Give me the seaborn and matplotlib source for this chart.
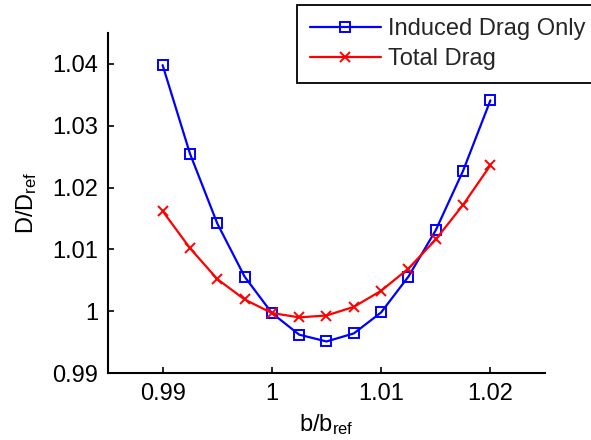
import matplotlib
matplotlib.use("Agg")
import matplotlib.pyplot as plt
import seaborn as sns
import pandas as pd

span_ratio = [0.99, 0.9925, 0.995, 0.9975, 1.0, 1.0025, 1.005, 1.0075, 1.01, 1.0125, 1.015, 1.0175, 1.02]
induced_drag = [1.0398, 1.0255, 1.0142, 1.0056, 0.9997, 0.9962, 0.9951, 0.9964, 0.9998, 1.0056, 1.0131, 1.0227, 1.0341]
total_drag = [1.0162, 1.0102, 1.0052, 1.0019, 0.9997, 0.9990, 0.9993, 1.0007, 1.0033, 1.0069, 1.0116, 1.0172, 1.0236]
xticks = [0.99, 1.0, 1.01, 1.02]
xticklabels = ["0.99", "1", "1.01", "1.02"]
yticks = [0.99, 1.0, 1.01, 1.02, 1.03, 1.04]
yticklabels = ["0.99", "1", "1.01", "1.02", "1.03", "1.04"]

sns.set_theme(style="ticks")
plt.rcParams['font.family'] = ['Liberation Sans', 'DejaVu Sans']
plt.rcParams['mathtext.fontset'] = 'custom'
plt.rcParams['mathtext.rm'] = 'Liberation Sans'
plt.rcParams['mathtext.it'] = 'Liberation Sans'

df = pd.DataFrame({"b": span_ratio, "induced": induced_drag, "total": total_drag})

fig = plt.figure(figsize=(5.91, 4.40), dpi=100)
ax = fig.add_axes([108/591, 1 - 373/440, (545 - 108)/591, (373 - 33)/440])

sns.lineplot(data=df, x="b", y="induced", ax=ax, color=(0, 0, 1), linewidth=1.6,
             marker="s", markersize=7.5, markerfacecolor="none", markeredgecolor=(0, 0, 1),
             markeredgewidth=1.4, label="Induced Drag Only")
sns.lineplot(data=df, x="b", y="total", ax=ax, color=(1, 0, 0), linewidth=1.6,
             marker="x", markersize=7.5, markeredgecolor=(1, 0, 0),
             markeredgewidth=1.4, label="Total Drag")

ax.set_xlim(0.985, 1.025)
ax.set_ylim(0.99, 1.045)
ax.set_xticks(xticks)
ax.set_xticklabels(xticklabels)
ax.set_yticks(yticks)
ax.set_yticklabels(yticklabels)
ax.tick_params(direction="in", length=4, width=1.2, labelsize=17, colors="black", pad=7)
for s in ["top", "right"]:
    ax.spines[s].set_visible(False)
for s in ["left", "bottom"]:
    ax.spines[s].set_linewidth(1.5)
    ax.spines[s].set_color("black")

ax.set_xlabel(r"b/b$_{\mathrm{ref}}$", fontsize=17, color="black", labelpad=5)
ax.set_ylabel(r"D/D$_{\mathrm{ref}}$", fontsize=17, color="black", labelpad=10)

leg = ax.legend(loc="upper left", bbox_to_anchor=(297/591, 1 - 5/440), bbox_transform=fig.transFigure,
                borderaxespad=0, fontsize=17, frameon=True, fancybox=False, handlelength=3.0,
                handletextpad=0.3, labelspacing=0.35, borderpad=0.55)
leg.get_frame().set_edgecolor("black")
leg.get_frame().set_linewidth(1.3)
leg.get_frame().set_alpha(1)

fig.savefig("out.png", dpi=100)
